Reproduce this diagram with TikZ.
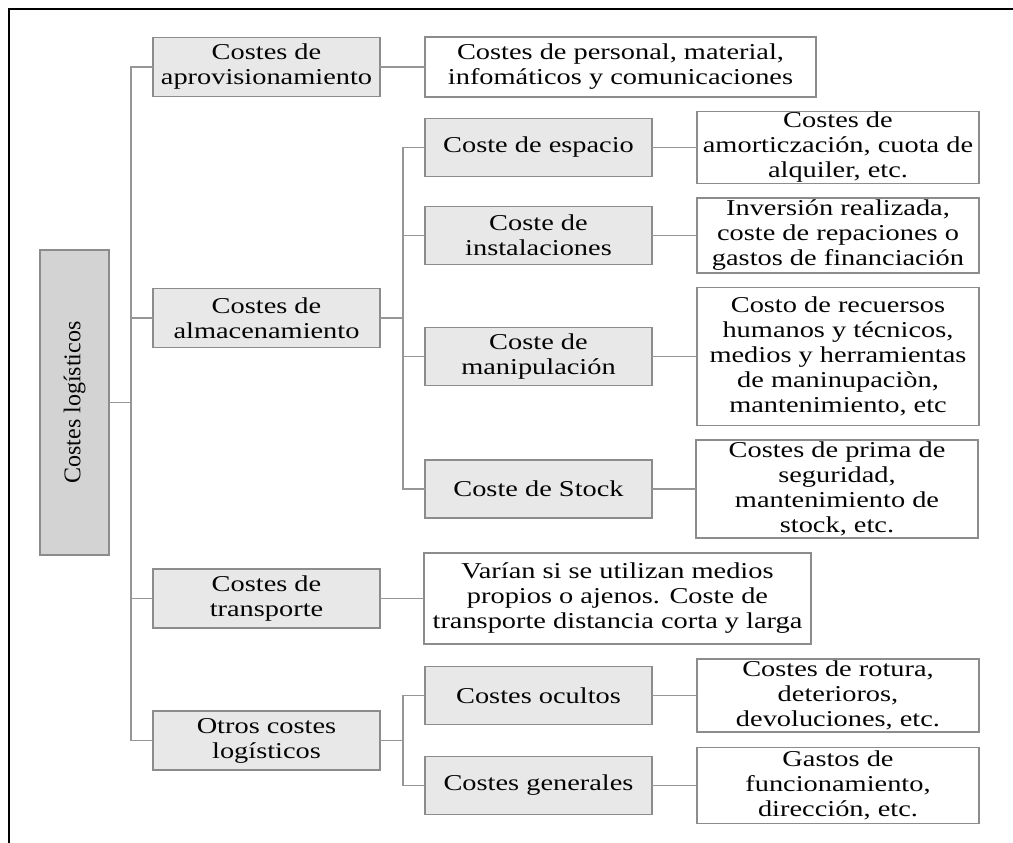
\documentclass[tikz,border=0pt]{standalone}
\usepackage{fontspec}
\usepackage{graphicx}
\setmainfont{Liberation Serif}[FakeStretch=1.25]
\newfontfamily\uprightserif{Liberation Serif}
\definecolor{boxline}{HTML}{8C8C8C}
\definecolor{linkcol}{HTML}{969696}
\definecolor{catfill}{HTML}{E8E8E8}
\definecolor{rootfill}{HTML}{D3D3D3}
\definecolor{textcol}{HTML}{050505}
\begin{document}
\begin{tikzpicture}[x=1pt,y=-1pt,
  box/.style={draw=boxline, line width=1.3pt, inner sep=0pt, outer sep=0pt,
    align=center, text=textcol, font=\fontsize{22.7}{25}\selectfont},
  catbox/.style={box, fill=catfill, minimum width=227pt, minimum height=59pt},
  subbox/.style={box, fill=catfill, minimum width=227pt, minimum height=58pt},
  leafbox/.style={box, fill=white, minimum width=282pt},
  link/.style={draw=linkcol, line width=1.6pt}]

\useasboundingbox (0,0) rectangle (1013,843);

% frame
\draw[line width=2.2pt, black] (9,843) -- (9,9) -- (1013,9);

% root
\node[box, fill=rootfill, minimum width=69pt, minimum height=305pt] (root) at (74.5,402.5)
  {\rotatebox{90}{\uprightserif\fontsize{24}{25}\selectfont Costes logísticos}};

% first level
\node[catbox] (aprov) at (266.5,67) {Costes de\\aprovisionamiento};
\node[catbox] (almac) at (266.5,318) {Costes de\\almacenamiento};
\node[catbox] (transp) at (266.5,598.5) {Costes de\\transporte};
\node[catbox] (otros) at (266.5,740.5) {Otros costes\\logísticos};

% second level
\node[subbox] (espacio) at (538.5,147.5) {Coste de espacio};
\node[subbox] (instal) at (538.5,235.5) {Coste de\\instalaciones};
\node[subbox] (manip) at (538.5,356.5) {Coste de\\manipulación};
\node[subbox] (stock) at (538.5,489) {Coste de Stock};
\node[subbox] (ocultos) at (538.5,695.5) {Costes ocultos};
\node[subbox] (generales) at (538.5,785.5) {Costes generales};

% descriptions
\node[box, fill=white, minimum width=391pt, minimum height=60pt] (aprovd) at (620.5,67)
  {Costes de personal, material,\\infomáticos y comunicaciones};
\node[leafbox, minimum height=72pt] (espaciod) at (838,147.5)
  {Costes de\\amorticzación, cuota de\\alquiler, etc.};
\node[leafbox, minimum height=75pt] (instald) at (838,235.5)
  {Inversión realizada,\\coste de repaciones o\\gastos de financiación};
\node[leafbox, minimum height=138pt] (manipd) at (838,356.5)
  {Costo de recuersos\\humanos y técnicos,\\medios y herramientas\\de maninupaciòn,\\mantenimiento, etc};
\node[leafbox, minimum height=98pt] (stockd) at (837,489)
  {Costes de prima de\\seguridad,\\mantenimiento de\\stock, etc.};
\node[box, fill=white, minimum width=387pt, minimum height=91pt] (transpd) at (617.5,598.5)
  {Varían si se utilizan medios\\propios o ajenos. Coste de\\transporte distancia corta y larga};
\node[leafbox, minimum height=73pt] (ocultosd) at (838,695.5)
  {Costes de rotura,\\deterioros,\\devoluciones, etc.};
\node[leafbox, minimum height=76pt] (generalesd) at (838,785.5)
  {Gastos de\\funcionamiento,\\dirección, etc.};

% junction points
\coordinate (trunk) at (131,402.5);
\coordinate (almacj) at (403,318);
\coordinate (otrosj) at (403,740.5);

% connectors
\draw[link] (root.east) -- (trunk);
\draw[link] (trunk) |- (aprov.west);
\draw[link] (trunk) |- (almac.west);
\draw[link] (trunk) |- (transp.west);
\draw[link] (trunk) |- (otros.west);

\draw[link] (aprov.east) -- (aprovd.west);
\draw[link] (transp.east) -- (transpd.west);

\draw[link] (almac.east) -- (almacj);
\draw[link] (almacj) |- (espacio.west);
\draw[link] (almacj) |- (instal.west);
\draw[link] (almacj) |- (manip.west);
\draw[link] (almacj) |- (stock.west);

\draw[link] (otros.east) -- (otrosj);
\draw[link] (otrosj) |- (ocultos.west);
\draw[link] (otrosj) |- (generales.west);

\draw[link] (espacio.east) -- (espaciod.west);
\draw[link] (instal.east) -- (instald.west);
\draw[link] (manip.east) -- (manipd.west);
\draw[link] (stock.east) -- (stockd.west);
\draw[link] (ocultos.east) -- (ocultosd.west);
\draw[link] (generales.east) -- (generalesd.west);
\end{tikzpicture}
\end{document}
